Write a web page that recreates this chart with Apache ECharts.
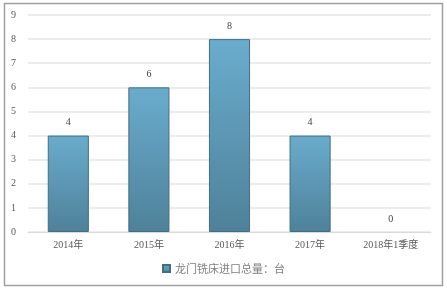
<!DOCTYPE html>
<html><head><meta charset="utf-8">
<script src="https://cdn.jsdelivr.net/npm/echarts@6/dist/echarts.min.js"></script>
<style>html,body{margin:0;padding:0;background:#fff;}#c{width:447px;height:291px;}</style>
</head><body><div id="c"></div>
<script>
var categories = ['2014年','2015年','2016年','2017年','2018年1季度'];
var values = [4, 6, 8, 4, 0];
var seriesName = '龙门铣床进口总量：台';

var chart = echarts.init(document.getElementById('c'), null, {renderer:'canvas'});
chart.setOption({
  animation:false,
  backgroundColor:'#fff',
  graphic:[{type:'rect', shape:{x:4.5,y:3.5,width:438,height:282}, style:{fill:'none', stroke:'#a0a0a0', lineWidth:1.5}, silent:true}],
  grid:{left:28, right:16, top:15, bottom:59, containLabel:false},
  legend:{bottom:12, left:'center', itemWidth:7, itemHeight:7, icon:'rect', itemGap:5,
    textStyle:{color:'#7f7f7f', fontSize:11, fontFamily:'Noto Sans CJK SC'}, data:[seriesName]},
  xAxis:{type:'category', data:categories,
    axisLine:{lineStyle:{color:'#d9d9d9'}}, axisTick:{show:false},
    axisLabel:{color:'#595959', fontSize:10, fontFamily:'"Liberation Serif","Noto Sans CJK SC"', margin:8}},
  yAxis:{type:'value', min:0, max:9, interval:1,
    axisLine:{show:false}, axisTick:{show:false},
    splitLine:{lineStyle:{color:'#e6e6e6', width:1.5}},
    axisLabel:{color:'#595959', fontSize:10, fontFamily:'"Liberation Serif"', margin:12}},
  series:[{type:'bar', name:seriesName,
    data:values.map(function(v){return v===0?{value:v,itemStyle:{borderWidth:0}}:v;}),
    barWidth:'51%',
    itemStyle:{color:new echarts.graphic.LinearGradient(0,0,0,1,[{offset:0,color:'#6aaccd'},{offset:1,color:'#4e8199'}]),
      borderColor:'#3f6f86', borderWidth:1},
    label:{show:true, position:'top', color:'#404040', fontSize:10, distance:8, fontFamily:'"Liberation Serif"'}
  }]
});
</script></body></html>
